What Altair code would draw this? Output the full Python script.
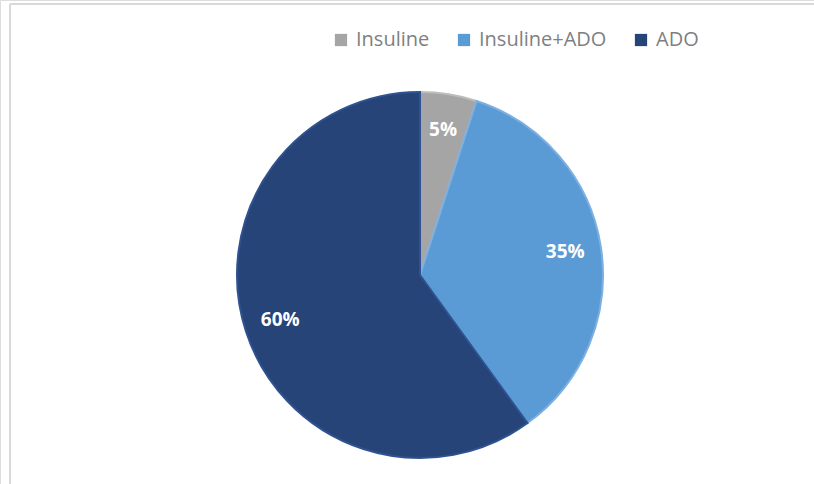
import altair as alt
import pandas as pd

# Répartition des traitements
categories = ["Insuline", "Insuline+ADO", "ADO"]
shares = [5, 35, 60]
labels = ["5%", "35%", "60%"]
colors = ["#a5a5a5", "#5b9bd5", "#264478"]
edge_colors = ["#bdbdbd", "#7db0e0", "#2f5290"]

df = pd.DataFrame({
    "Traitement": categories,
    "Part": shares,
    "Etiquette": labels,
    "ordre": list(range(len(categories))),
})

cx, cy, r = 420, 275, 183

base = alt.Chart(df).encode(
    theta=alt.Theta("Part:Q", stack=True),
    order=alt.Order("ordre:Q"),
)

pie = base.mark_arc(radius=r, strokeWidth=2).encode(
    x=alt.value(cx),
    y=alt.value(cy),
    color=alt.Color(
        "Traitement:N",
        scale=alt.Scale(domain=categories, range=colors),
        sort=categories,
        legend=alt.Legend(
            title=None,
            orient="none",
            direction="horizontal",
            legendX=331,
            legendY=30,
            symbolType="square",
            symbolSize=150,
            symbolStrokeWidth=0,
            labelFont="Open Sans",
            labelFontSize=20,
            labelColor="#7f7f7f",
            labelOffset=5,
            columnPadding=24,
            symbolOffset=0,
        ),
    ),
    stroke=alt.Stroke(
        "Traitement:N",
        scale=alt.Scale(domain=categories, range=edge_colors),
        legend=None,
    ),
)

text = base.mark_text(
    radius=147, font="Open Sans", fontSize=19, fontWeight="bold", color="white"
).encode(
    x=alt.value(cx),
    y=alt.value(cy),
    text="Etiquette:N",
)

frame_top = alt.Chart(df).mark_rule(color="#d9d9d9", strokeWidth=2).encode(
    x=alt.value(10), x2=alt.value(814), y=alt.value(4)
)
frame_left = alt.Chart(df).mark_rule(color="#d9d9d9", strokeWidth=2).encode(
    x=alt.value(10), y=alt.value(4), y2=alt.value(484)
)

chart = (
    alt.layer(frame_top, frame_left, pie, text)
    .properties(width=814, height=484, autosize=alt.AutoSizeParams(type="none"), padding=0)
    .configure_view(stroke=None)
    .configure(background="white")
)

chart.save("out.html", embed_options={"renderer": "svg", "actions": False})
